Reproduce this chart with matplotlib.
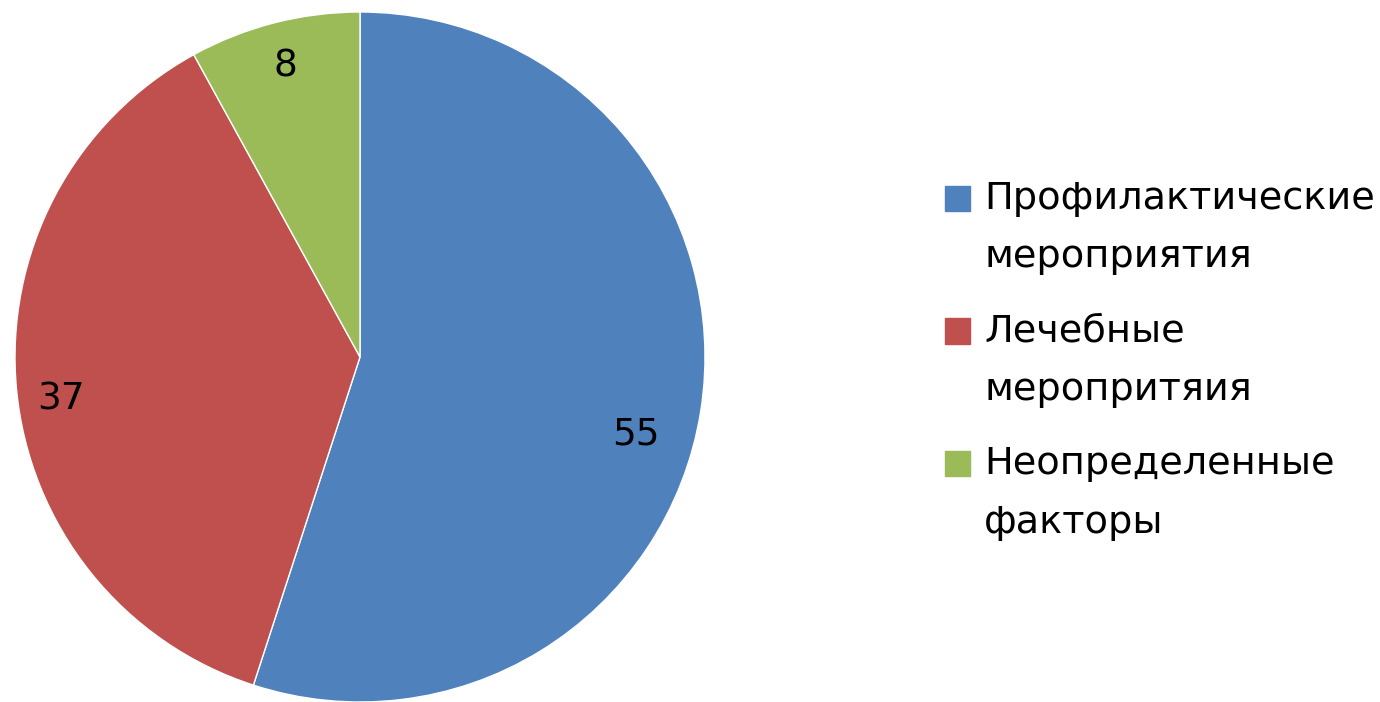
import matplotlib
matplotlib.use("Agg")
import matplotlib.pyplot as plt
from matplotlib.patches import Patch

labels = ["Профилактические\nмероприятия", "Лечебные\nмеропритяия", "Неопределенные\nфакторы"]
values = [55, 37, 8]
colors = ["#4F81BD", "#C0504D", "#9BBB59"]

plt.rcParams['font.family'] = ['DejaVu Sans']

fig = plt.figure(figsize=(13.8, 7.02), dpi=100)
ax = fig.add_axes([15/1380, 0.0, 690/1380, 690/702])
wedges, texts, autotexts = ax.pie(values, colors=colors, startangle=90, counterclock=False,
                                  autopct=lambda p: f"{p:.0f}", pctdistance=0.87,
                                  wedgeprops=dict(edgecolor="white", linewidth=1.0),
                                  textprops=dict(fontsize=27, color="black"))
# Excel-style "best fit" label placement tweaks
autotexts[0].set_position((0.80, -0.225))
x, y = autotexts[1].get_position()
autotexts[1].set_position((x, y - 0.04))
ax.set_xlim(-1, 1)
ax.set_ylim(-1, 1)
ax.set_aspect("equal")

handles = [Patch(facecolor=c, edgecolor=c) for c in colors]
leg = fig.legend(handles, labels, loc="center left", bbox_to_anchor=(945/1380, 0.486),
                 frameon=False, fontsize=27.5, handlelength=0.65, handleheight=0.65,
                 handletextpad=0.38, labelspacing=1.0, borderpad=0, borderaxespad=0)
for t in leg.get_texts():
    t.set_linespacing(1.8)
fig.canvas.draw()
for h in leg.legend_handles:
    h.set_y(h.get_y() + 22)

fig.savefig("out.png", dpi=100)
